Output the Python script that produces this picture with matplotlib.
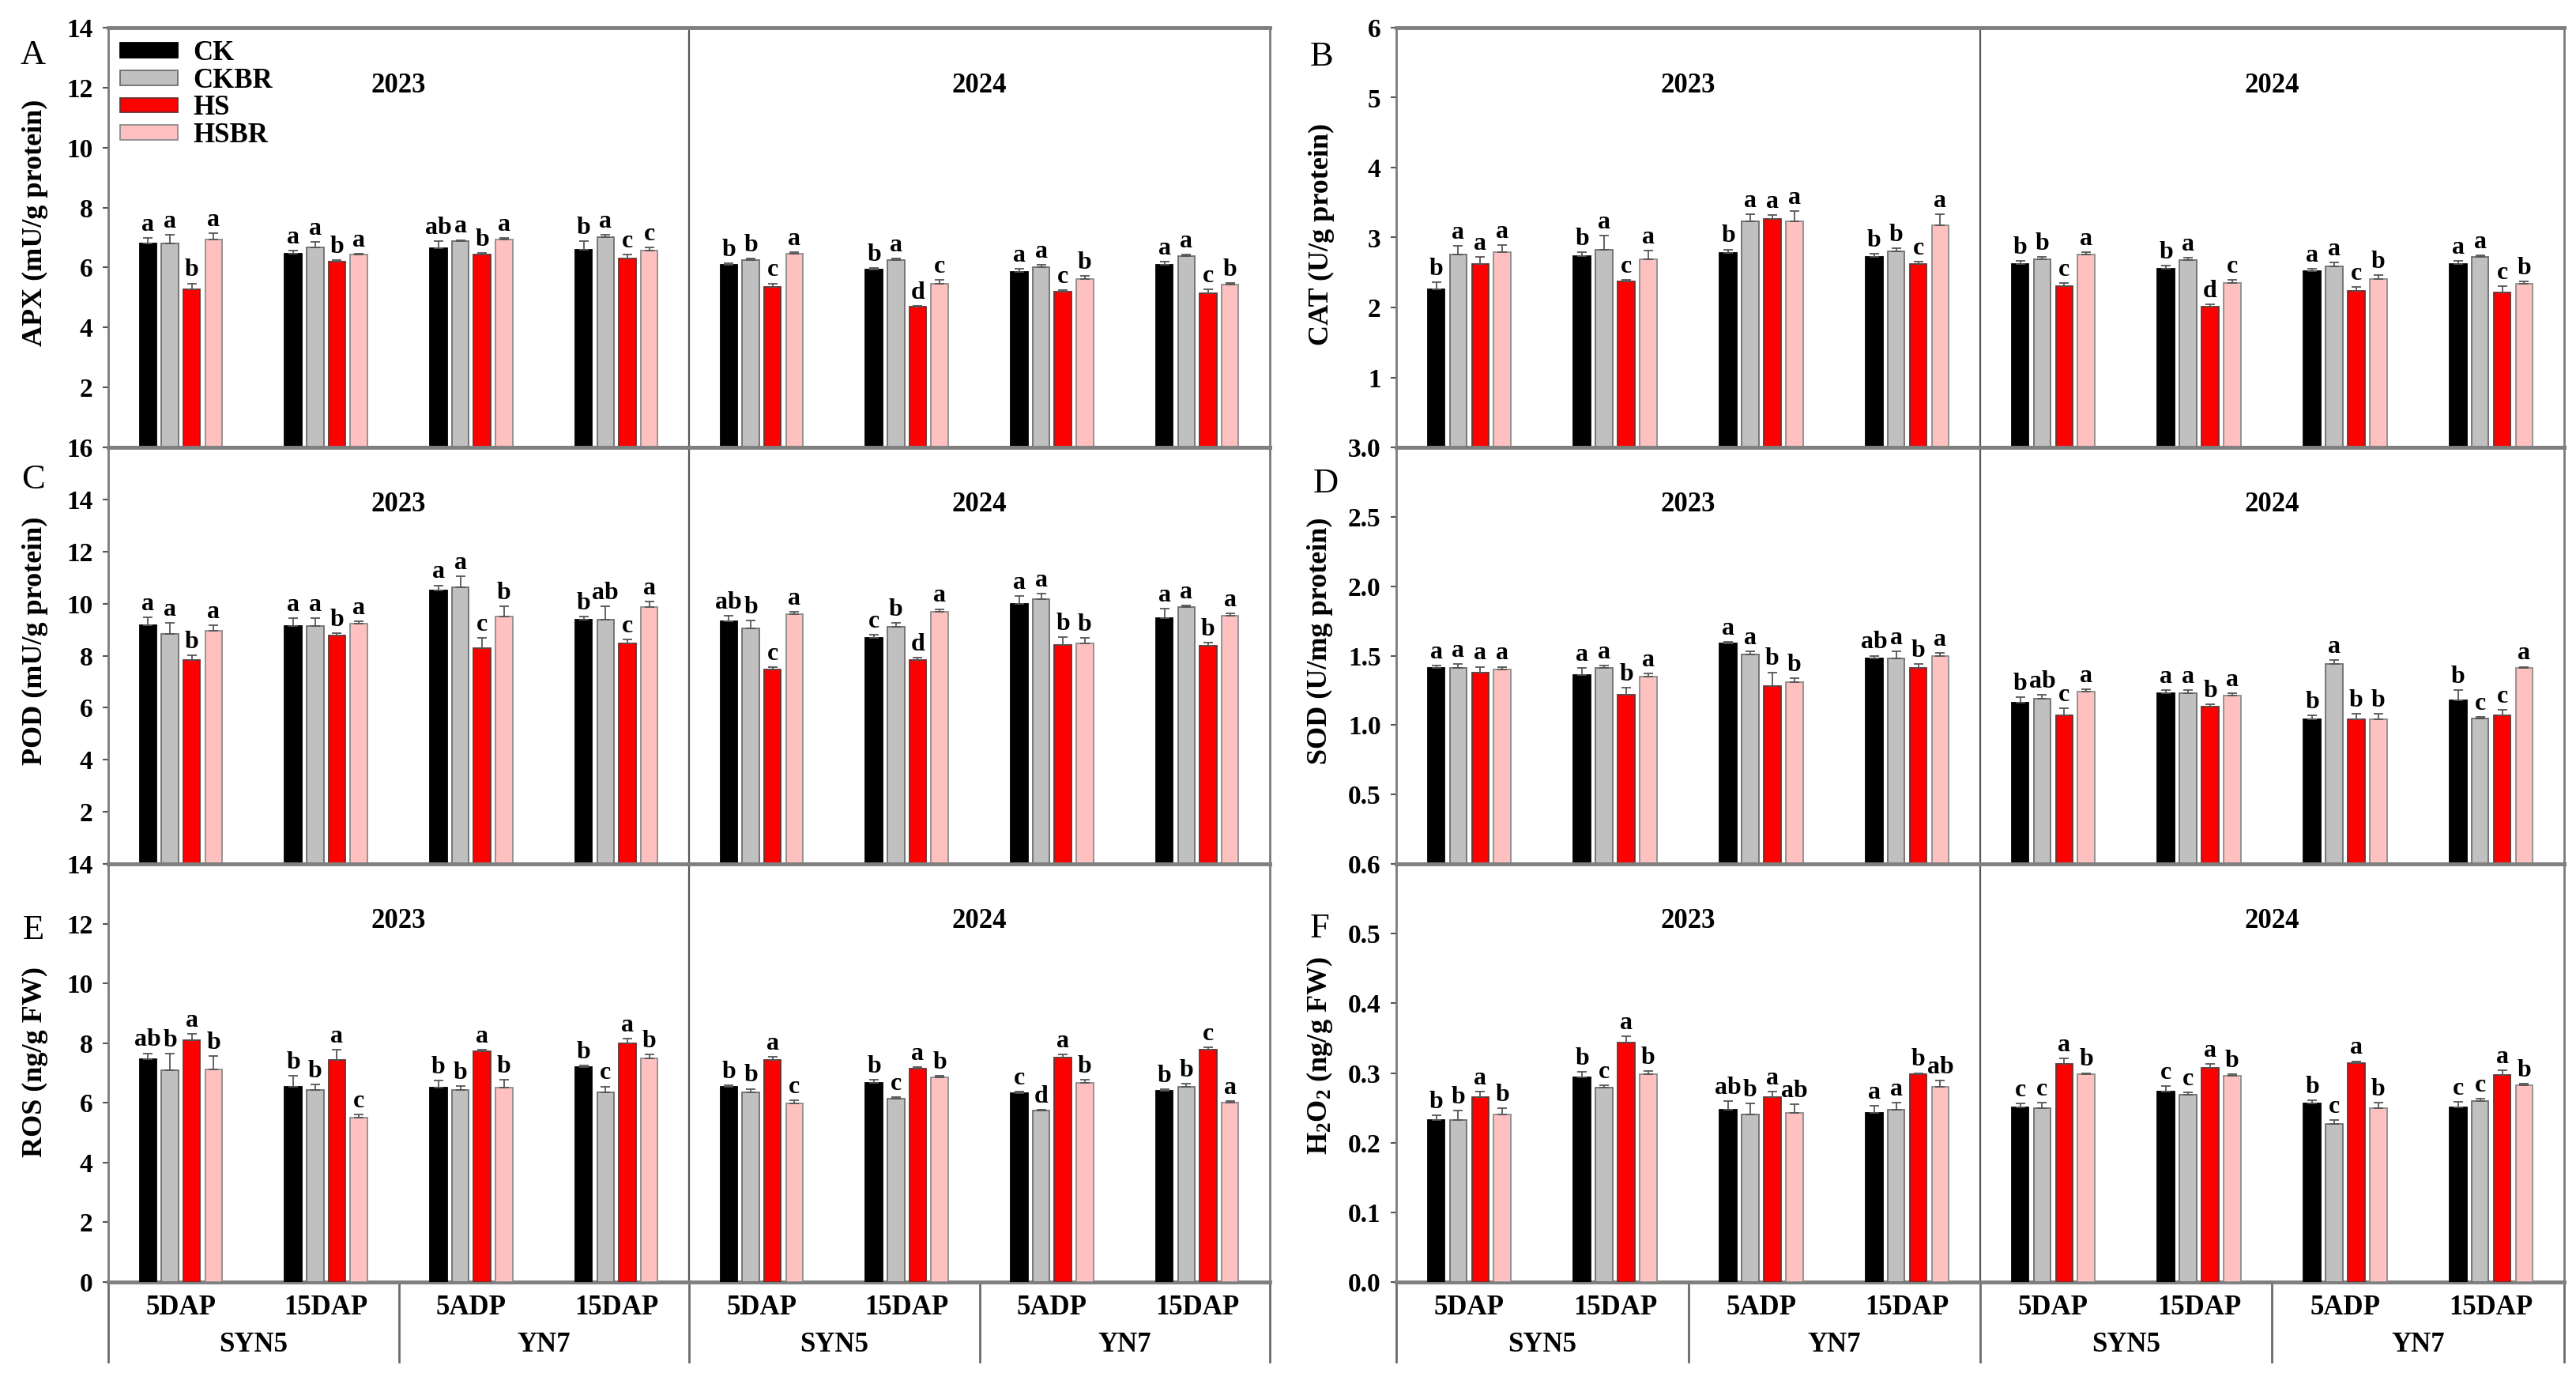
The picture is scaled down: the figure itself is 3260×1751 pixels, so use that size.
import numpy as np
import matplotlib.pyplot as plt
from matplotlib.patches import Patch

plt.rcParams['font.family'] = ['Liberation Serif', 'DejaVu Serif']
plt.rcParams['mathtext.fontset'] = 'custom'
plt.rcParams['mathtext.rm'] = 'Liberation Serif:bold'
plt.rcParams['mathtext.it'] = 'Liberation Serif:bold'
plt.rcParams['mathtext.bf'] = 'Liberation Serif:bold'

# ---- data ----
treatments = ["CK", "CKBR", "HS", "HSBR"]
colors = ["#000000", "#c0c0c0", "#ff0000", "#ffc0c0"]
edges = ["#000000", "#6e6e6e", "#6e3030", "#8c8c8c"]
stages = ["5DAP", "15DAP", "5ADP", "15DAP", "5DAP", "15DAP", "5ADP", "15DAP"]
cultivars = ["SYN5", "YN7", "SYN5", "YN7"]
years = ["2023", "2024"]

# rows: 8 groups (2023 SYN5 5DAP ... 2024 YN7 15DAP), cols: CK, CKBR, HS, HSBR
apx = [[6.79, 6.79, 5.27, 6.94], [6.45, 6.66, 6.20, 6.44], [6.64, 6.87, 6.43, 6.94], [6.59, 7.00, 6.30, 6.57],
       [6.10, 6.25, 5.35, 6.45], [5.94, 6.25, 4.68, 5.47], [5.86, 6.00, 5.19, 5.61], [6.10, 6.37, 5.14, 5.44]]
apx_err = [[0.2, 0.3, 0.2, 0.2], [0.12, 0.2, 0.05, 0.03], [0.25, 0.05, 0.05, 0.05], [0.3, 0.1, 0.12, 0.1],
           [0.05, 0.05, 0.12, 0.05], [0.05, 0.05, 0.05, 0.12], [0.1, 0.1, 0.05, 0.1], [0.1, 0.05, 0.12, 0.05]]
apx_let = [["a", "a", "b", "a"], ["a", "a", "b", "a"], ["ab", "a", "b", "a"], ["b", "a", "c", "c"],
           ["b", "b", "c", "a"], ["b", "a", "d", "c"], ["a", "a", "c", "b"], ["a", "a", "c", "b"]]

cat = [[2.26, 2.76, 2.62, 2.79], [2.74, 2.83, 2.37, 2.69], [2.78, 3.23, 3.27, 3.23], [2.72, 2.80, 2.62, 3.18],
       [2.62, 2.69, 2.30, 2.76], [2.55, 2.68, 2.01, 2.35], [2.52, 2.59, 2.24, 2.41], [2.62, 2.72, 2.22, 2.34]]
cat_err = [[0.1, 0.12, 0.1, 0.1], [0.05, 0.2, 0.03, 0.12], [0.05, 0.1, 0.05, 0.15], [0.05, 0.05, 0.03, 0.15],
           [0.05, 0.03, 0.05, 0.03], [0.05, 0.03, 0.03, 0.05], [0.03, 0.05, 0.05, 0.05], [0.05, 0.03, 0.08, 0.03]]
cat_let = [["b", "a", "a", "a"], ["b", "a", "c", "a"], ["b", "a", "a", "a"], ["b", "b", "c", "a"],
           ["b", "b", "c", "a"], ["b", "a", "d", "c"], ["a", "a", "c", "b"], ["a", "a", "c", "b"]]

pod = [[9.16, 8.85, 7.82, 8.96], [9.14, 9.14, 8.77, 9.23], [10.50, 10.64, 8.28, 9.50], [9.39, 9.39, 8.47, 9.88],
       [9.32, 9.05, 7.47, 9.59], [8.69, 9.12, 7.82, 9.69], [9.99, 10.17, 8.42, 8.47], [9.45, 9.88, 8.39, 9.52]]
pod_err = [[0.3, 0.4, 0.2, 0.2], [0.3, 0.3, 0.1, 0.1], [0.2, 0.4, 0.4, 0.4], [0.1, 0.5, 0.15, 0.2],
           [0.2, 0.3, 0.1, 0.1], [0.1, 0.15, 0.1, 0.1], [0.3, 0.2, 0.3, 0.2], [0.35, 0.05, 0.1, 0.1]]
pod_let = [["a", "a", "b", "a"], ["a", "a", "b", "a"], ["a", "a", "c", "b"], ["b", "ab", "c", "a"],
           ["ab", "b", "c", "a"], ["c", "b", "d", "a"], ["a", "a", "b", "b"], ["a", "a", "b", "a"]]

sod = [[1.41, 1.41, 1.38, 1.40], [1.36, 1.41, 1.22, 1.35], [1.59, 1.51, 1.28, 1.31], [1.48, 1.48, 1.41, 1.50],
       [1.16, 1.19, 1.07, 1.24], [1.23, 1.23, 1.13, 1.21], [1.04, 1.44, 1.04, 1.04], [1.18, 1.05, 1.07, 1.41]]
sod_err = [[0.02, 0.03, 0.04, 0.02], [0.05, 0.02, 0.05, 0.02], [0.01, 0.02, 0.1, 0.03], [0.02, 0.05, 0.03, 0.02],
           [0.04, 0.03, 0.05, 0.02], [0.02, 0.02, 0.02, 0.02], [0.03, 0.03, 0.04, 0.04], [0.07, 0.01, 0.04, 0.01]]
sod_let = [["a", "a", "a", "a"], ["a", "a", "b", "a"], ["a", "a", "b", "b"], ["ab", "a", "b", "a"],
           ["b", "ab", "c", "a"], ["a", "a", "b", "a"], ["b", "a", "b", "b"], ["b", "c", "c", "a"]]

ros = [[7.46, 7.10, 8.11, 7.12], [6.55, 6.42, 7.43, 5.51], [6.50, 6.42, 7.74, 6.52], [7.21, 6.35, 8.00, 7.48],
       [6.55, 6.35, 7.43, 5.99], [6.67, 6.13, 7.14, 6.86], [6.33, 5.74, 7.52, 6.67], [6.41, 6.55, 7.77, 6.01]]
ros_err = [[0.2, 0.55, 0.2, 0.45], [0.35, 0.2, 0.35, 0.1], [0.25, 0.15, 0.03, 0.25], [0.03, 0.2, 0.15, 0.15],
           [0.05, 0.12, 0.1, 0.1], [0.1, 0.05, 0.05, 0.05], [0.05, 0.02, 0.1, 0.1], [0.05, 0.1, 0.1, 0.05]]
ros_let = [["ab", "b", "a", "b"], ["b", "b", "a", "c"], ["b", "b", "a", "b"], ["b", "c", "a", "b"],
           ["b", "b", "a", "c"], ["b", "c", "a", "b"], ["c", "d", "a", "b"], ["b", "b", "c", "a"]]

h2o2 = [[0.232, 0.233, 0.265, 0.240], [0.294, 0.279, 0.344, 0.298], [0.247, 0.240, 0.265, 0.243], [0.243, 0.247, 0.298, 0.280],
        [0.251, 0.249, 0.313, 0.298], [0.273, 0.269, 0.307, 0.296], [0.256, 0.227, 0.314, 0.250], [0.251, 0.260, 0.297, 0.282]]
h2o2_err = [[0.007, 0.013, 0.008, 0.009], [0.008, 0.003, 0.009, 0.005], [0.013, 0.016, 0.008, 0.012], [0.010, 0.010, 0.002, 0.009],
            [0.005, 0.008, 0.008, 0.002], [0.008, 0.003, 0.006, 0.002], [0.005, 0.005, 0.003, 0.007], [0.008, 0.003, 0.007, 0.003]]
h2o2_let = [["b", "b", "a", "b"], ["b", "c", "a", "b"], ["ab", "b", "a", "ab"], ["a", "a", "b", "ab"],
            ["c", "c", "a", "b"], ["c", "c", "a", "b"], ["b", "c", "a", "b"], ["c", "c", "a", "b"]]

# ---- layout (pixels) ----
W, H = 3260, 1751
fig = plt.figure(figsize=(W / 100, H / 100), dpi=100)
col_x = [(137, 1607), (1767, 3245)]
row_y = [(35, 566), (566, 1093), (1093, 1622)]

panels = [
    # letter, data, err, letters, ymax, ticks, fmt, hide0, ylabel, col, row, letter pos, label pos
    ("A", apx, apx_err, apx_let, 14, np.arange(0, 15, 2), "{:.0f}", True, "APX (mU/g protein)", 0, 0, (42, 70), (44, 282)),
    ("B", cat, cat_err, cat_let, 6, np.arange(0, 7, 1), "{:.0f}", True, "CAT (U/g protein)", 1, 0, (1673, 72), (1672, 296)),
    ("C", pod, pod_err, pod_let, 16, np.arange(0, 17, 2), "{:.0f}", True, "POD (mU/g protein)", 0, 1, (42, 607), (44, 811)),
    ("D", sod, sod_err, sod_let, 3.0, np.arange(0, 3.01, 0.5), "{:.1f}", True, "SOD (U/mg protein)", 1, 1, (1678, 612), (1670, 811)),
    ("E", ros, ros_err, ros_let, 14, np.arange(0, 15, 2), "{:.0f}", False, "ROS (ng/g FW)", 0, 2, (42, 1177), (44, 1343)),
    ("F", h2o2, h2o2_err, h2o2_let, 0.6, np.arange(0, 0.61, 0.1), "{:.1f}", False, r"H$_2$O$_2$ (ng/g FW)", 1, 2, (1670, 1175), (1670, 1336)),
]

x = np.arange(8)
pitch, bw = 0.151, 0.117

for (plet, vals, errs, lets, ymax, ticks, fmt, hide0, ylab, c, r, lpos, ylpos) in panels:
    x0, x1 = col_x[c]
    y0, y1 = row_y[r]
    ax = fig.add_axes([x0 / W, 1 - y1 / H, (x1 - x0) / W, (y1 - y0) / H])
    vals = np.array(vals)
    errs = np.array(errs)
    for j in range(4):
        xs = x + (j - 1.5) * pitch
        ax.bar(xs, vals[:, j], width=bw, color=colors[j], edgecolor=edges[j], linewidth=1.3,
               yerr=[np.zeros(8), errs[:, j]], capsize=4,
               error_kw=dict(ecolor="#555555", elinewidth=1.3, capthick=1.3), zorder=3,
               label=treatments[j])
        for k in range(8):
            ax.annotate(lets[k][j], (xs[k], vals[k, j] + errs[k, j]), xytext=(0, 1.5),
                        textcoords="offset points", ha="center", va="bottom",
                        fontsize=23, fontweight="bold", zorder=4)
    ax.set_xlim(-0.5, 7.5)
    ax.set_ylim(0, ymax)
    ax.set_xticks([])
    labels = [fmt.format(t) for t in ticks]
    if hide0:
        labels[0] = ""
    ax.set_yticks(ticks, labels, fontsize=24, fontweight="bold")
    ax.tick_params(axis="y", direction="out", length=5, width=1.5, color="#555555", pad=9)
    for s in ["top", "bottom"]:
        ax.spines[s].set_linewidth(3.5)
        ax.spines[s].set_color("#7f7f7f")
    for s in ["left", "right"]:
        ax.spines[s].set_linewidth(2)
        ax.spines[s].set_color("#7a7a7a")
    ax.axvline(3.5, color="#555555", lw=1.6, zorder=2)
    for i, yr in enumerate(years):
        ax.text(0.25 + 0.5 * i, 0.8625, yr, transform=ax.transAxes, ha="center", va="center",
                fontsize=25, fontweight="bold")
    fig.text(lpos[0] / W, 1 - lpos[1] / H, plet, fontsize=32, ha="center", va="center")
    fig.text(ylpos[0] / W, 1 - ylpos[1] / H, ylab, rotation=90, fontsize=26, fontweight="bold",
             ha="center", va="center")

    if plet == "A":
        handles = [Patch(facecolor=colors[j], edgecolor=edges[j], linewidth=1.3) for j in range(4)]
        ax.legend(handles, treatments, loc="upper left", bbox_to_anchor=(0.0102, 0.97), frameon=False,
                  prop=dict(size=25, weight="bold"), handlelength=2.1, handleheight=0.45,
                  labelspacing=0.05, handletextpad=0.55, borderpad=0, borderaxespad=0)

    if r == 2:
        tr = ax.get_xaxis_transform()
        hgt = y1 - y0
        for k in range(8):
            ax.text(x[k], -32 / hgt, stages[k], transform=tr, ha="center", va="center",
                    fontsize=25, fontweight="bold")
        for k in range(4):
            ax.text(2 * k + 0.5, -79 / hgt, cultivars[k], transform=tr, ha="center", va="center",
                    fontsize=25, fontweight="bold")
        for xv in [-0.5, 1.5, 3.5, 5.5, 7.5]:
            ax.plot([xv, xv], [0, -101 / hgt], transform=tr, color="#6a6a6a", lw=2, clip_on=False)

fig.savefig("out.png", dpi=100)
